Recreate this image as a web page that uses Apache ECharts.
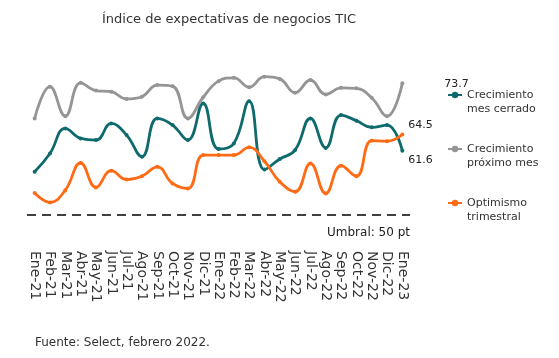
<!DOCTYPE html>
<html>
<head>
<meta charset="utf-8">
<script src="https://cdn.jsdelivr.net/npm/echarts@6/dist/echarts.min.js"></script>
<style>html,body{margin:0;padding:0;background:#fff;}#c{width:559px;height:358px;}</style>
</head>
<body>
<div id="c"></div>
<script>
var categories = ['Ene-21','Feb-21','Mar-21','Abr-21','May-21','Jun-21','Jul-21','Ago-21','Sep-21','Oct-21','Nov-21','Dic-21','Ene-22','Feb-22','Mar-22','Abr-22','May-22','Jun-22','Jul-22','Ago-22','Sep-22','Oct-22','Nov-22','Dic-22','Ene-23'];
var mesCerrado = [57.8, 61.1, 65.6, 63.8, 63.5, 66.5, 64.4, 60.5, 67.4, 66.2, 63.5, 70.1, 61.9, 62.9, 70.5, 58.2, 60.1, 61.7, 67.4, 62.1, 68.0, 67.0, 65.8, 66.2, 61.6];
var proximoMes = [67.4, 73.1, 67.8, 73.8, 72.4, 72.2, 70.9, 71.3, 73.4, 73.2, 67.4, 71.2, 74.1, 74.7, 73.0, 74.9, 74.5, 72.0, 74.3, 71.7, 72.9, 72.8, 71.1, 67.8, 73.7];
var optimismo = [54.0, 52.3, 54.5, 59.4, 55.0, 58.0, 56.4, 57.0, 58.7, 55.7, 54.8, 60.8, 60.8, 60.8, 62.2, 59.7, 56.0, 54.2, 59.3, 53.9, 58.9, 57.0, 63.4, 63.3, 64.5];
var umbral = 50;
var seriesNames = ['Crecimiento mes cerrado', 'Crecimiento próximo mes', 'Optimismo trimestral'];
var legendLines = {
  'Crecimiento mes cerrado': ['Crecimiento', 'mes cerrado'],
  'Crecimiento próximo mes': ['Crecimiento', 'próximo mes'],
  'Optimismo trimestral': ['Optimismo', 'trimestral']
};

var FONT = 'DejaVu Sans';
var chart = echarts.init(document.getElementById('c'), null, {renderer: 'canvas'});

function lineSeries(name, data, color, endOffset) {
  return {
    name: name,
    type: 'line',
    data: data,
    smooth: 0.45,
    smoothConstraint: false,
    symbol: 'circle',
    symbolSize: 4,
    showSymbol: true,
    lineStyle: {color: color, width: 2.8},
    itemStyle: {color: color},
    endLabel: {
      show: true,
      formatter: function (p) { return p.value.toFixed(1); },
      color: '#222',
      fontFamily: FONT,
      fontSize: 11,
      offset: endOffset
    },
    emphasis: {disabled: true}
  };
}

var s1 = lineSeries(seriesNames[0], mesCerrado, '#0f6a6e', [-2, 9]);
s1.markLine = {
  silent: true,
  symbol: 'none',
  data: [{yAxis: umbral}],
  lineStyle: {type: [9, 6], color: '#404040', width: 2},
  label: {
    show: true,
    position: 'insideEndBottom',
    formatter: 'Umbral: 50 pt',
    color: '#222',
    fontFamily: FONT,
    fontSize: 12,
    distance: [0, 12]
  }
};
var s2 = lineSeries(seriesNames[1], proximoMes, '#959595', [34, 1]);
var s3 = lineSeries(seriesNames[2], optimismo, '#ff6b14', [-2, -9]);

chart.setOption({
  animation: false,
  textStyle: {fontFamily: FONT},
  title: [{
    text: 'Índice de expectativas de negocios TIC',
    left: 102,
    top: 13,
    padding: 0,
    textStyle: {fontFamily: FONT, fontSize: 13, fontWeight: 'normal', color: '#333'}
  }, {
    text: 'Fuente: Select, febrero 2022.',
    left: 35,
    top: 337,
    padding: 0,
    textStyle: {fontFamily: FONT, fontSize: 12, fontWeight: 'normal', color: '#333'}
  }],
  legend: {
    orient: 'vertical',
    left: 447,
    top: 74,
    padding: 0,
    itemWidth: 14,
    itemHeight: 8,
    itemGap: 12,
    data: seriesNames,
    formatter: function (name) { return '\n' + legendLines[name].join('\n'); },
    textStyle: {fontFamily: FONT, fontSize: 11, lineHeight: 14, color: '#333'}
  },
  grid: {left: 27, top: 65, width: 383, height: 178},
  xAxis: {
    type: 'category',
    data: categories,
    boundaryGap: true,
    axisLine: {show: false},
    axisTick: {show: false},
    axisLabel: {
      interval: 0,
      rotate: -90,
      margin: 8,
      hideOverlap: false,
      fontFamily: FONT,
      fontSize: 14,
      color: '#333'
    }
  },
  yAxis: {
    type: 'value',
    min: 45,
    max: 77,
    show: false,
    splitLine: {show: false}
  },
  series: [s1, s2, s3]
});
</script>
</body>
</html>
